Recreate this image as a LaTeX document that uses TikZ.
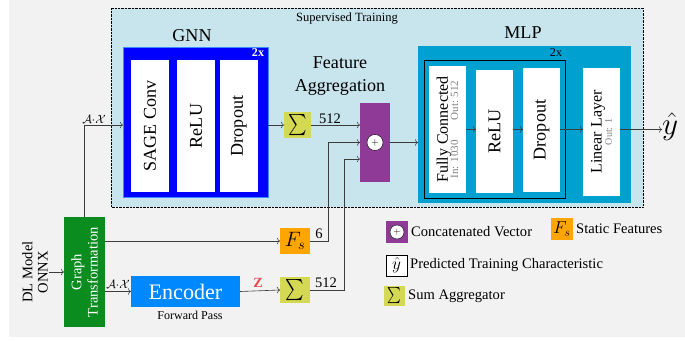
\documentclass[tikz,border=0pt]{standalone}
\usepackage{fontspec}
\setmainfont{Liberation Serif}
\usepackage{graphicx}
\usetikzlibrary{calc,arrows.meta}

\definecolor{pagegray}{RGB}{242,242,242}
\definecolor{trainblue}{RGB}{200,228,236}
\definecolor{gnnblue}{RGB}{0,0,255}
\definecolor{gnnedge}{RGB}{60,140,255}
\definecolor{mlpblue}{RGB}{0,160,208}
\definecolor{encblue}{RGB}{0,136,255}
\definecolor{gtgreen}{RGB}{10,140,30}
\definecolor{sumyellow}{RGB}{212,216,82}
\definecolor{fsorange}{RGB}{255,165,0}
\definecolor{catpurple}{RGB}{142,58,150}
\definecolor{zred}{RGB}{232,72,72}
\definecolor{linegray}{RGB}{60,60,60}

\newcommand\fsz[2]{\fontsize{#1}{#2}\selectfont}
% cmex stays at 10pt, so the sum sign is scaled by hand
\newcommand\sumsign[2]{\scalebox{#1}[#2]{$\textstyle\sum$}}

\begin{document}
\begin{tikzpicture}[x=0.035cm,y=-0.035cm,
    blk/.style 2 args={minimum width=#1*0.035cm, minimum height=#2*0.035cm,
      inner sep=0pt, outer sep=0pt},
    layer/.style={fill=white},
    conn/.style={draw=linegray, line width=0.6pt, -{To[length=3pt]}},
    txt/.style={font=\fsz{14.5}{16}, inner sep=0pt},
    legtxt/.style={font=\fsz{14.5}{16}, anchor=west, inner sep=0pt, xshift=3pt}]

  % page and training area
  \fill[white] (0,0) rectangle (685,341);
  \fill[pagegray] (9,0) rectangle (685,337);
  \draw[densely dotted, fill=trainblue] (111,8) rectangle (643,207);
  \node[font=\fsz{12.5}{14}] (trainlbl) at (347,18) {Supervised Training};

  % GNN block
  \node[font=\fsz{18}{20}] (gnnlbl) at (192,36) {GNN};
  \node[blk={145}{150}, fill=gnnblue, draw=gnnedge, line width=0.8pt] (gnn) at (195.5,122) {};
  \node[font=\bfseries\fsz{12}{14}, text=white, inner sep=0pt] (gnnrep) at (258,53) {2x};
  \node[blk={38}{132}, layer] (sage) at (150,126) {};
  \node[blk={38}{132}, layer] (relu1) at (196,126) {};
  \node[blk={38}{132}, layer] (drop1) at (239,126) {};
  \node[rotate=90, font=\fsz{18}{20}] at (sage) {SAGE Conv};
  \node[rotate=90, font=\fsz{18}{20}] at (relu1) {ReLU};
  \node[rotate=90, font=\fsz{18}{20}] at (drop1) {Dropout};

  % aggregation
  \node[blk={27}{26}, fill=sumyellow] (sum1) at (297.5,125) {\sumsign{1.75}{2.1}};
  \node[align=center, font=\fsz{18}{23}] (agglbl) at (340,76) {Feature\\Aggregation};
  \node[blk={30}{79}, fill=catpurple] (cat) at (375,142.5) {};
  \node[circle, draw=black, fill=white, minimum size=16*0.035cm, inner sep=0pt,
    font=\fsz{10}{10}] (catop) at (cat) {$+$};
  \coordinate (catin3) at ($(cat.west)+(0,16.5)$);

  \node[blk={30}{26}, fill=fsorange, font=\fsz{20}{20}] (fs) at (295,241) {$F_s$};
  \node[blk={30}{26}, fill=sumyellow] (sum2) at (295,290) {\sumsign{1.75}{2.1}};

  % MLP block
  \node[font=\fsz{18}{20}] (mlplbl) at (523,33) {MLP};
  \node[blk={213}{157}, fill=mlpblue] (mlp) at (524.5,124.5) {};
  \node[blk={141}{138}, draw=black, line width=0.8pt] (rep) at (494.5,129) {};
  \node[font=\fsz{12}{14}, inner sep=0pt] (mlprep) at (556,53) {2x};
  \node[blk={37}{127}, layer] (fc) at (447.5,129.5) {};
  \node[blk={37}{123}, layer] (relu2) at (494.5,131.5) {};
  \node[blk={37}{124}, layer] (drop2) at (541.5,130) {};
  \node[blk={37}{128}, layer] (lin) at (601.5,132) {};
  \node[rotate=90, align=center] at (fc)
    {{\fsz{16}{17}Fully Connected}\\[-2pt]
     {\fsz{11}{12}\color{gray}In: 1030\hspace{1.8em}Out: 512}};
  \node[rotate=90, font=\fsz{18}{20}] at (relu2) {ReLU};
  \node[rotate=90, font=\fsz{18}{20}] at (drop2) {Dropout};
  \node[rotate=90, align=center] at (lin)
    {{\fsz{16}{17}Linear Layer}\\[-2pt]{\fsz{10}{11}\color{gray}Out: 1}};
  \node[font=\fsz{24.88}{26}, inner sep=0pt, anchor=west] (yhat) at (662,127) {\scalebox{1.25}{$\hat{y}$}};

  % input side
  \node[blk={41}{110}, fill=gtgreen] (gt) at (84.5,272) {};
  \node[rotate=90, align=center, text=white, font=\fsz{14.5}{16}] at (gt) {Graph\\Transformation};
  \node[rotate=90, align=center, font=\fsz{14.5}{15}, inner sep=1pt] (onnx) at (35,272) {DL Model\\ONNX};
  \node[blk={109}{31}, fill=encblue, text=white, font=\fsz{22}{24}] (enc) at (185.5,291.5) {Encoder};
  \node[font=\fsz{12}{14}, inner sep=0pt] (fwd) at (190,315) {Forward Pass};

  % connectors
  \draw[conn] (onnx.south) -- (gt.west);
  \draw[conn] (gt.north) |- (gnn.west |- sum1);
  \node[font=\fsz{12}{12}, inner sep=0pt] at (94,119) {$\mathcal{A}{\cdot}\mathcal{X}$};
  \draw[conn] (gt.east |- fs) -- (fs.west);
  \draw[conn] (gt.east |- enc) -- (enc.west);
  \node[font=\fsz{12}{12}, inner sep=0pt] at (118,284) {$\mathcal{A}{\cdot}\mathcal{X}$};
  \draw[conn] (enc.east) -- (sum2.west);
  \node[font=\bfseries\fsz{14}{14}, text=zred, inner sep=0pt] at (258,283) {Z};
  \draw[conn] (gnn.east |- sum1) -- (sum1.west);
  \draw[conn] (sum1.east) -- (cat.west |- sum1);
  \node[txt] at (330,119) {512};
  \draw[conn] (fs.east) -- ++(18,0) |- (cat.west);
  \node[txt] at (319,234) {6};
  \draw[conn] (sum2.east) -- ++(34,0) |- (catin3);
  \node[txt] at (326,283) {512};
  \draw[conn] (cat.east) -- (mlp.west |- cat.east);
  \draw[conn] (fc.east) -- (relu2.west |- fc.east);
  \draw[conn] (relu2.east |- fc.east) -- (drop2.west |- fc.east);
  \draw[conn] (drop2.east |- fc.east) -- (lin.west |- fc.east);
  \draw[conn] (lin.east |- fc.east) -- (yhat.west |- fc.east);

  % legend
  \node[blk={22}{22}, fill=catpurple] (legcat) at (397,232) {};
  \node[circle, draw=black, fill=white, minimum size=14*0.035cm, inner sep=0pt,
    font=\fsz{9}{9}] at (legcat) {$+$};
  \node[legtxt] at (legcat.east) {Concatenated Vector};
  \node[blk={22}{22}, fill=fsorange, font=\fsz{17.28}{18}] (legfs) at (562,229) {$F_s$};
  \node[legtxt] at (legfs.east) {Static Features};
  \node[blk={21}{21}, draw=black, line width=0.6pt, fill=white, font=\fsz{17.28}{18}] (legy) at (396.5,265.5) {$\hat{y}$};
  \node[legtxt] at (legy.east) {Predicted Training Characteristic};
  \node[blk={21}{20}, fill=sumyellow] (legsum) at (394.5,296) {\sumsign{1.3}{1.6}};
  \node[legtxt] at (legsum.east) {Sum Aggregator};
\end{tikzpicture}
\end{document}
